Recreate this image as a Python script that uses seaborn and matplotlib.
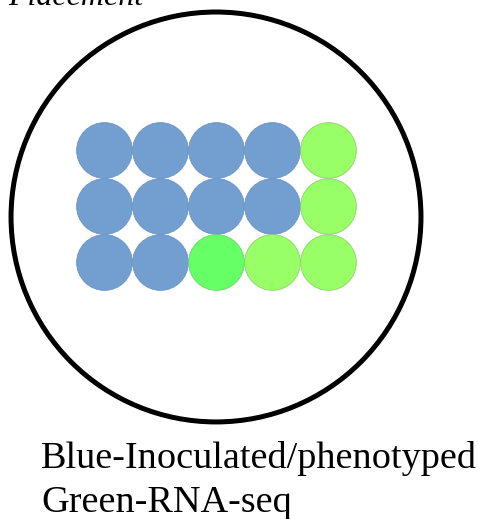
import matplotlib
matplotlib.use("Agg")
import matplotlib.pyplot as plt
import seaborn as sns
import pandas as pd
from matplotlib.patches import Circle

sns.set_theme(style="white")
plt.rcParams["font.family"] = ["Liberation Serif", "DejaVu Serif"]

# grid of plants: 3 rows x 5 columns
cols = [0, 1, 2, 3, 4] * 3
rows = [0] * 5 + [1] * 5 + [2] * 5
group = ["blue", "blue", "blue", "blue", "green",
         "blue", "blue", "blue", "blue", "green",
         "blue", "blue", "bright", "green", "green"]
palette = {"blue": "#729fcf", "green": "#99ff66", "bright": "#66ff66"}
edges = {"blue": "#6a94c2", "green": "#8fd070", "bright": "#70d070"}
title = "Placement"
legend_lines = ["Blue-Inoculated/phenotyped", "Green-RNA-seq"]

df = pd.DataFrame({"col": cols, "row": rows, "group": group})

fig = plt.figure(figsize=(4.78, 5.19), dpi=100)
ax = fig.add_axes([0, 0, 1, 1])
# pixel -> grid units: x = (px - 104) / 56, y = (py - 150) / 56
ax.set_xlim((0 - 104) / 56, (478 - 104) / 56)
ax.set_ylim((519 - 150) / 56, (0 - 150) / 56)
ax.set_axis_off()

ax.add_patch(Circle((2.0, 1.196), 3.66, fill=False, lw=3.6, color="black"))

for g in ["blue", "green", "bright"]:
    sub = df[df["group"] == g]
    sns.scatterplot(data=sub, x="col", y="row", ax=ax, s=1610,
                    color=palette[g], edgecolor=edges[g], linewidth=0.6,
                    legend=False, zorder=3)
ax.set_xlabel("")
ax.set_ylabel("")

# title sits partly above the top edge, as in the original slide crop
fig.text(8 / 478, 1 - 5 / 519, title, fontsize=23, style="italic",
         color="black", ha="left", va="baseline")
fig.text(41 / 478, 1 - 468 / 519, legend_lines[0], fontsize=27.5,
         color="black", ha="left", va="baseline")
fig.text(41 / 478, 1 - 512 / 519, legend_lines[1], fontsize=27.5,
         color="black", ha="left", va="baseline")

fig.savefig("out.png", dpi=100)
